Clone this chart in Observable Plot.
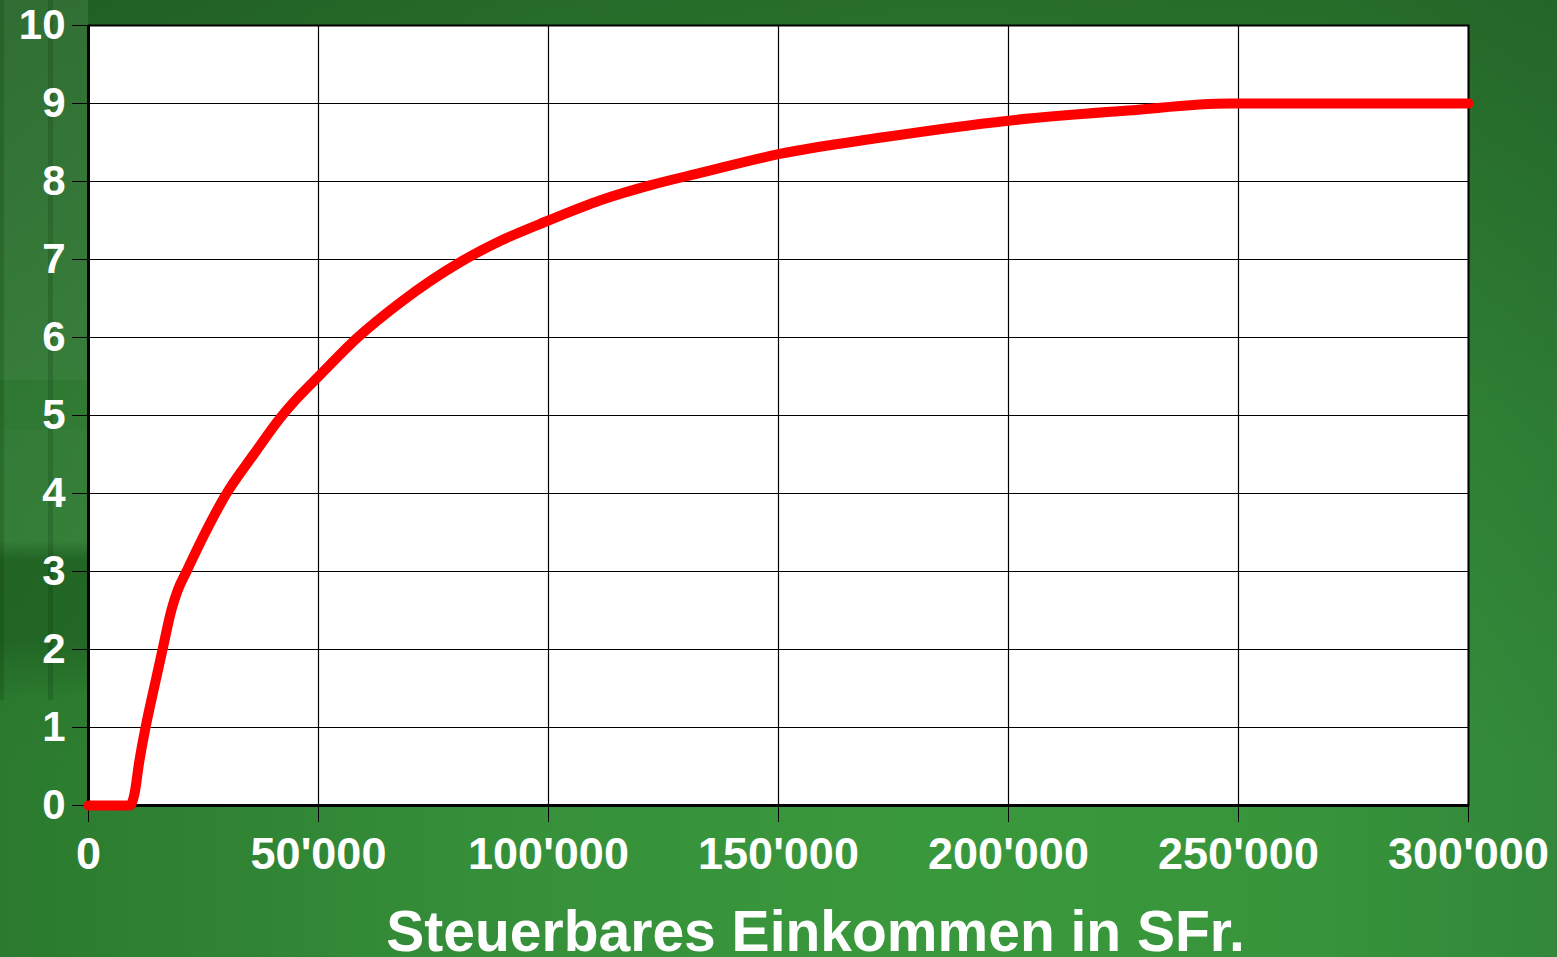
<!DOCTYPE html>
<html>
<head>
<meta charset="utf-8">
<script src="https://cdn.jsdelivr.net/npm/d3@7"></script>
<script src="https://cdn.jsdelivr.net/npm/@observablehq/plot@0.6"></script>
<style>
  html, body { margin: 0; padding: 0; }
  body {
    width: 1557px; height: 957px; overflow: hidden; position: relative;
    background:
      linear-gradient(180deg, rgba(18,60,20,0.45) 0%, rgba(18,60,20,0.15) 45%, rgba(18,60,20,0) 80%),
      linear-gradient(90deg, #2b7a2f 0%, #36913a 35%, #3a983c 60%, #37943a 85%, #32873a 100%);
  }
  #deco { position: absolute; left: 0; top: 0; width: 88px; height: 700px;
    background:
      linear-gradient(90deg, rgba(0,40,0,0.18) 0 4px, rgba(0,0,0,0) 4px 48px, rgba(0,40,0,0.18) 48px 53px, rgba(0,0,0,0) 53px),
      linear-gradient(180deg, rgba(170,220,170,0.12) 0 380px, rgba(120,190,120,0.10) 380px 430px, rgba(170,220,170,0.09) 430px 540px, rgba(10,50,10,0.25) 560px 640px, rgba(0,0,0,0) 700px);
  }
  #chart { position: absolute; left: 0; top: 0; }
</style>
</head>
<body>
<div id="deco"></div>
<div id="chart"></div>
<script>
const income = [0, 9000, 10000, 11000, 12400, 14600, 16100, 18000, 19400, 21300, 25400, 30000, 35900, 41700, 46000, 50000, 58500, 67800, 80900, 89600, 100000, 111300, 122000, 133000, 150000, 172000, 200000, 226000, 248000, 300000];
const rate = [0, 0, 0.15, 0.55, 1.0, 1.6, 2.0, 2.5, 2.76, 3.0, 3.5, 4.0, 4.5, 4.97, 5.26, 5.5, 6.0, 6.45, 6.97, 7.24, 7.5, 7.76, 7.95, 8.11, 8.35, 8.56, 8.78, 8.91, 9.0, 9.0];
const xTicks = [0, 50000, 100000, 150000, 200000, 250000, 300000];
const yTicks = [0, 1, 2, 3, 4, 5, 6, 7, 8, 9, 10];
const xTitle = "Steuerbares Einkommen in SFr.";

const data = income.map((v, i) => ({income: v, rate: rate[i]}));
const fmt = d => d3.format(",")(d).replace(/,/g, "'");

const chart = Plot.plot({
  width: 1557,
  height: 957,
  marginLeft: 88,
  marginRight: 89,
  marginTop: 25,
  marginBottom: 152,
  style: {background: "transparent", fontFamily: "'Liberation Sans', Arial, sans-serif", fontWeight: "bold"},
  x: {domain: [0, 300000]},
  y: {domain: [0, 10]},
  marks: [
    Plot.frame({fill: "white", stroke: "black", strokeWidth: 2}),
    Plot.gridX(xTicks, {stroke: "black", strokeOpacity: 1, strokeWidth: 1.2}),
    Plot.gridY(yTicks, {stroke: "black", strokeOpacity: 1, strokeWidth: 1.2}),
    Plot.ruleX([0], {stroke: "black", strokeWidth: 3}),
    Plot.ruleY([0], {stroke: "black", strokeWidth: 3}),
    Plot.axisX(xTicks, {tickSize: 17, tickPadding: 15, fontSize: 45, stroke: "black", fill: "white", tickFormat: fmt, label: null, fontWeight: "bold"}),
    Plot.axisY(yTicks, {tickSize: 16, tickPadding: 7, fontSize: 42, stroke: "black", fill: "white", tickFormat: d => String(d), label: null, fontWeight: "bold"}),
    Plot.line(data, {x: "income", y: "rate", stroke: "#ff0000", strokeWidth: 10, strokeLinecap: "round", strokeLinejoin: "round", curve: "monotone-x"}),
    Plot.text([xTitle], {frameAnchor: "bottom", dy: 145, dx: 37, lineAnchor: "bottom", fontSize: 57, fill: "white", fontWeight: "bold"})
  ]
});
document.getElementById("chart").appendChild(chart);
</script>
</body>
</html>
